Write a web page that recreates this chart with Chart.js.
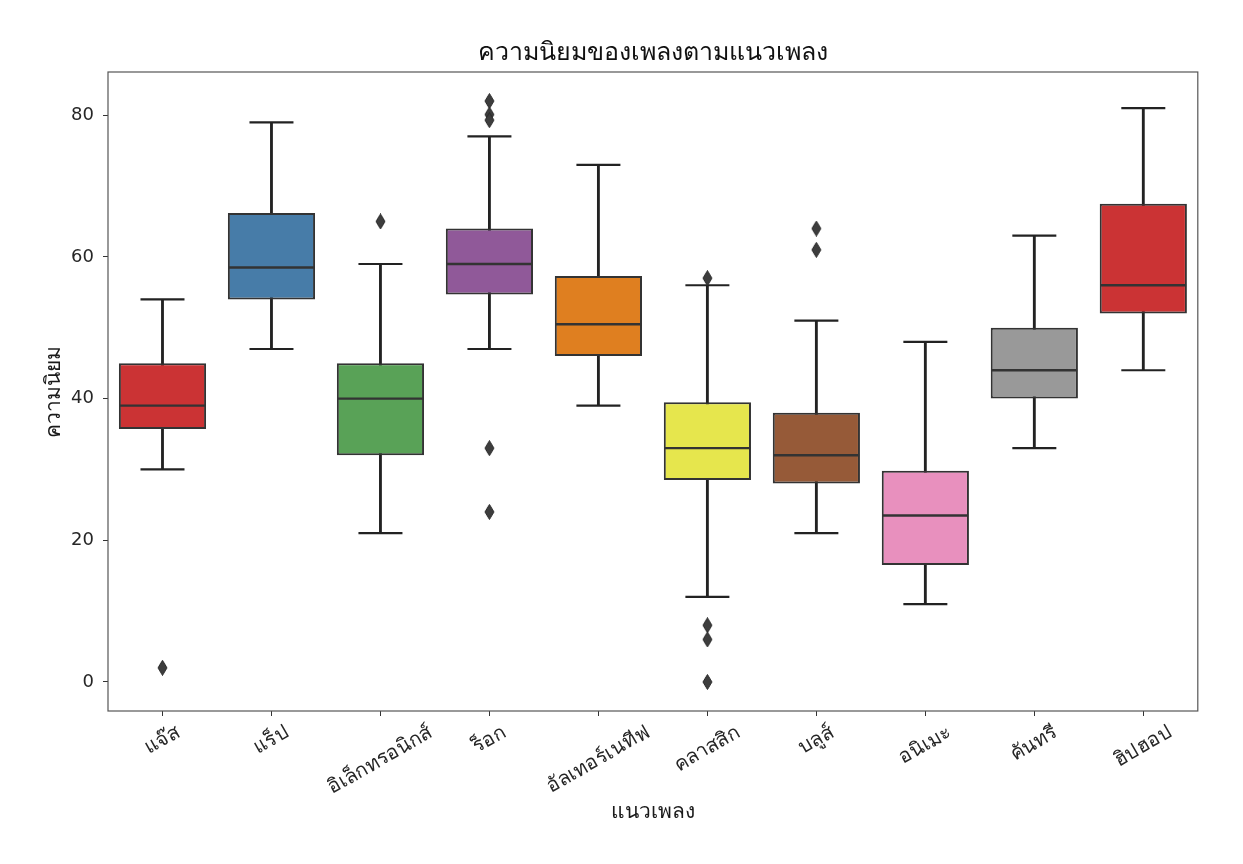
<!DOCTYPE html>
<html>
<head>
<meta charset="utf-8">
<script src="https://cdn.jsdelivr.net/npm/chart.js@4.4.0/dist/chart.umd.min.js"></script>
<style>
  html, body { margin: 0; padding: 0; background: #fff; }
  #wrap { width: 1243px; height: 864px; }
</style>
</head>
<body>
<div id="wrap"><canvas id="chart" width="1243" height="864"></canvas></div>
<script>
// genre names (x axis)
var genres = ['แจ๊ส', 'แร็ป', 'อิเล็กทรอนิกส์', 'ร็อก', 'อัลเทอร์เนทีฟ', 'คลาสสิก', 'บลูส์', 'อนิเมะ', 'คันทรี', 'ฮิปฮอป'];

// box plot stats
var whiskerLow  = [30, 47, 21, 47, 39, 12, 21, 11, 33, 44];
var q1          = [35.7, 54, 32, 54.7, 46, 28.5, 28, 16.5, 40, 52];
var medians     = [39, 58.5, 40, 59, 50.5, 33, 32, 23.5, 44, 56];
var q3          = [45, 66.2, 45, 64, 57.3, 39.5, 38, 29.8, 50, 67.5];
var whiskerHigh = [54, 79, 59, 77, 73, 56, 51, 48, 63, 81];
var outliers    = [[2], [], [65], [82, 80.1, 79.3, 33, 24], [], [57, 8, 6, 0], [64, 61], [], [], []];

var yTicks = [0, 20, 40, 60, 80];

var boxColors = ['#cb3334', '#477ca8', '#59a257', '#905999', '#df7f20',
                 '#e6e64d', '#965a38', '#e890be', '#999999', '#cb3334'];

var FONT = "'DejaVu Sans', 'Noto Sans', sans-serif";

// thin diamond marker like matplotlib 'd'
function diamond() {
    var c = document.createElement('canvas');
    c.width = 11; c.height = 16;
    var g = c.getContext('2d');
    g.beginPath();
    g.moveTo(5.5, 0.5); g.lineTo(10, 8); g.lineTo(5.5, 15.5); g.lineTo(1, 8);
    g.closePath();
    g.fillStyle = '#3d3d3d';
    g.fill();
    g.strokeStyle = '#2a2a2a';
    g.lineWidth = 1;
    g.stroke();
    return c;
}

var outlierPoints = [];
outliers.forEach(function (vals, i) {
    vals.forEach(function (v) { outlierPoints.push({ x: genres[i], y: v }); });
});

// frame, title centred over the plot, rotated x labels centred on ticks
var framePlugin = {
    id: 'frame',
    afterLayout: function (chart) {
        var t = chart.titleBlock, a = chart.chartArea;
        if (t) {
            t.left = a.left;
            t.right = a.right;
            t.width = a.right - a.left;
        }
    },
    afterDraw: function (chart) {
        var ctx = chart.ctx, a = chart.chartArea, xs = chart.scales.x;
        ctx.save();
        ctx.strokeStyle = '#555';
        ctx.lineWidth = 1.2;
        ctx.strokeRect(a.left, a.top, a.right - a.left, a.bottom - a.top);

        ctx.font = '20px ' + FONT;
        ctx.fillStyle = '#262626';
        ctx.textAlign = 'center';
        ctx.textBaseline = 'middle';
        var ang = 30 * Math.PI / 180;
        var h = 24;
        genres.forEach(function (lab, i) {
            var w = ctx.measureText(lab).width;
            var bh = w * Math.sin(ang) + h * Math.cos(ang);
            var x = xs.getPixelForTick(i);
            var y = a.bottom + 10 + bh / 2;
            ctx.save();
            ctx.translate(x, y);
            ctx.rotate(-ang);
            ctx.fillText(lab, 0, 0);
            ctx.restore();
        });
        ctx.restore();
    }
};

var capStyle = {
    type: 'line',
    showLine: false,
    pointStyle: 'line',
    pointRadius: 22,
    pointHoverRadius: 22,
    pointBorderWidth: 2.2,
    pointBorderColor: '#222',
    order: 1
};

var ctx = document.getElementById('chart').getContext('2d');

var myChart = new Chart(ctx, {
    type: 'bar',
    data: {
        labels: genres,
        datasets: [
            {
                // whisker line min -> max, hidden behind the box
                label: 'whisker',
                data: genres.map(function (g, i) { return [whiskerLow[i], whiskerHigh[i]]; }),
                backgroundColor: '#222',
                barThickness: 2.2,
                grouped: false,
                order: 5
            },
            {
                label: 'box',
                data: genres.map(function (g, i) { return [q1[i], q3[i]]; }),
                backgroundColor: boxColors,
                borderColor: '#333',
                borderWidth: 2,
                borderSkipped: false,
                categoryPercentage: 1,
                barPercentage: 0.8,
                grouped: false,
                order: 3
            },
            Object.assign({}, capStyle, {
                label: 'median',
                data: medians,
                pointRadius: 42.8,
                pointHoverRadius: 42.8,
                pointBorderWidth: 2.4,
                pointBorderColor: '#333'
            }),
            Object.assign({}, capStyle, { label: 'low cap', data: whiskerLow }),
            Object.assign({}, capStyle, { label: 'high cap', data: whiskerHigh }),
            {
                type: 'line',
                label: 'outliers',
                data: outlierPoints,
                showLine: false,
                pointStyle: diamond(),
                order: 0
            }
        ]
    },
    options: {
        responsive: false,
        animation: false,
        layout: { padding: { left: 0, right: 39, top: 0, bottom: 0 } },
        scales: {
            x: {
                type: 'category',
                offset: true,
                grid: { display: true, drawOnChartArea: false, drawTicks: true, tickLength: 5, color: '#333', offset: false },
                border: { display: false },
                ticks: { display: false },
                title: {
                    display: true,
                    text: 'แนวเพลง',
                    color: '#1a1a1a',
                    font: { family: FONT, size: 21 },
                    padding: { top: 0, bottom: 39 }
                },
                afterFit: function (s) { s.height = 153; }
            },
            y: {
                type: 'linear',
                min: -4.1,
                max: 86.1,
                afterBuildTicks: function (s) { s.ticks = yTicks.map(function (v) { return { value: v }; }); },
                grid: { display: true, drawOnChartArea: false, drawTicks: true, tickLength: 5, color: '#333' },
                border: { display: false },
                ticks: {
                    color: '#262626',
                    font: { family: FONT, size: 18 },
                    padding: 9
                },
                title: {
                    display: true,
                    text: 'ความนิยม',
                    color: '#1a1a1a',
                    font: { family: FONT, size: 21 },
                    padding: { top: 42, bottom: 0 }
                },
                afterFit: function (s) { s.width = 108; }
            }
        },
        plugins: {
            legend: { display: false },
            tooltip: { enabled: false },
            title: {
                display: true,
                text: 'ความนิยมของเพลงตามแนวเพลง',
                color: '#111',
                font: { family: FONT, size: 25, weight: 'normal' },
                padding: { top: 38, bottom: 4 }
            }
        }
    },
    plugins: [framePlugin]
});
</script>
</body>
</html>
